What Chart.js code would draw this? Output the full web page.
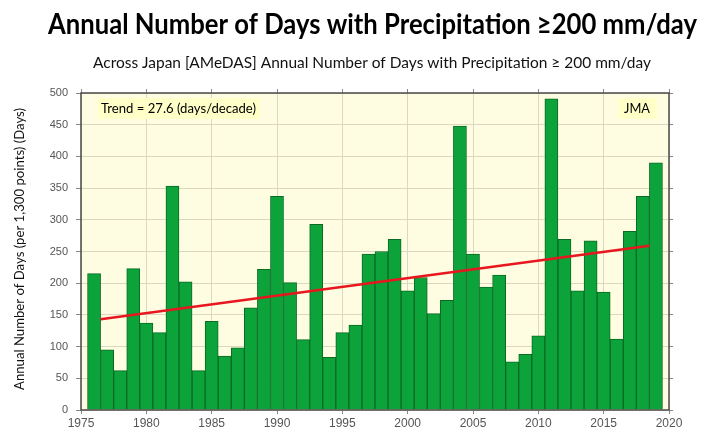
<!DOCTYPE html>
<html>
<head>
<meta charset="utf-8">
<script src="https://cdn.jsdelivr.net/npm/chart.js@4.4.0/dist/chart.umd.min.js"></script>
<style>
    html, body { margin: 0; padding: 0; background: #ffffff; }
    #wrap { width: 701px; height: 434px; position: relative; }
</style>
</head>
<body>
<div id="wrap"><canvas id="myChart" width="701" height="434"></canvas></div>
<script>
const years = [1976, 1977, 1978, 1979, 1980, 1981, 1982, 1983, 1984, 1985,
    1986, 1987, 1988, 1989, 1990, 1991, 1992, 1993, 1994, 1995,
    1996, 1997, 1998, 1999, 2000, 2001, 2002, 2003, 2004, 2005,
    2006, 2007, 2008, 2009, 2010, 2011, 2012, 2013, 2014, 2015,
    2016, 2017, 2018, 2019];
const days = [215, 95, 62, 223, 137, 122, 353, 202, 62, 140,
    85, 98, 161, 222, 337, 201, 111, 293, 83, 122,
    134, 246, 250, 269, 188, 209, 152, 173, 448, 246,
    194, 213, 76, 88, 117, 491, 269, 188, 267, 186,
    112, 282, 337, 390];
const trendYears = [1976.5, 2018.5];
const trendDays = [143, 259];
const yTicks = [0, 50, 100, 150, 200, 250, 300, 350, 400, 450, 500];
const xTicks = [1975, 1980, 1985, 1990, 1995, 2000, 2005, 2010, 2015, 2020];

const titleText = 'Annual Number of Days with Precipitation \u2265200 mm/day';
const subtitleText = 'Across Japan [AMeDAS] Annual Number of Days with Precipitation \u2265 200 mm/day';
const yTitleText = 'Annual Number of Days (per 1,300 points) (Days)';
const trendLabel = 'Trend = 27.6 (days/decade)';
const sourceLabel = 'JMA';

const calib = 'Lato, "Noto Sans", sans-serif';
const plain = '"Liberation Sans", Arial, sans-serif';

// текст, стиснутий по ширині
function fitText(ctx, text, cx, cy, width, font) {
    ctx.save();
    ctx.font = font;
    const w = ctx.measureText(text).width;
    ctx.translate(cx, cy);
    ctx.scale(width / w, 1);
    ctx.textAlign = 'center';
    ctx.textBaseline = 'middle';
    ctx.fillText(text, 0, 0);
    ctx.restore();
}

const plotDecor = {
    id: 'plotDecor',
    beforeDraw(chart) {
        const { ctx, chartArea: a } = chart;
        ctx.save();
        ctx.fillStyle = '#fffde1';
        ctx.fillRect(a.left, a.top, a.right - a.left, a.bottom - a.top);
        ctx.restore();
    },
    afterDraw(chart) {
        const { ctx, chartArea: a } = chart;
        ctx.save();
        ctx.strokeStyle = '#4a4a4a';
        ctx.lineWidth = 1.5;
        ctx.strokeRect(a.left, a.top, a.right - a.left, a.bottom - a.top);

        ctx.fillStyle = '#000';
        fitText(ctx, titleText, 372.5, 25, 649, 'bold 28px ' + calib);
        ctx.fillStyle = '#111';
        fitText(ctx, subtitleText, 372, 63, 558, '15px ' + calib);

        // вертикальний підпис осі
        ctx.save();
        ctx.translate(20, 249);
        ctx.rotate(-Math.PI / 2);
        fitText(ctx, yTitleText, 0, 0, 282, '13px ' + calib);
        ctx.restore();

        // підписи в полі графіка
        ctx.fillStyle = '#ffffc8';
        ctx.fillRect(98, 98, 162, 21);
        ctx.fillRect(618, 98, 39, 21);
        ctx.fillStyle = '#000';
        fitText(ctx, trendLabel, 178.5, 108.5, 155, '14px ' + calib);
        fitText(ctx, sourceLabel, 637, 108.5, 26, '14px ' + calib);
        ctx.restore();
    }
};

function buildChart() {
    const ctx = document.getElementById('myChart').getContext('2d');
    new Chart(ctx, {
        type: 'bar',
        data: {
            datasets: [{
                type: 'line',
                data: trendYears.map((x, i) => ({ x: x, y: trendDays[i] })),
                borderColor: '#e8161e',
                borderWidth: 2.5,
                pointRadius: 0,
                fill: false,
                order: 0
            }, {
                type: 'bar',
                data: years.map((x, i) => ({ x: x, y: days[i] })),
                backgroundColor: '#0ba33a',
                borderColor: '#0b6a24',
                borderWidth: 1,
                barPercentage: 1.0,
                categoryPercentage: 1.0,
                order: 1
            }]
        },
        options: {
            responsive: false,
            animation: false,
            layout: { padding: { top: 89, left: 0, right: 0, bottom: 0 } },
            plugins: {
                legend: { display: false },
                tooltip: { enabled: false }
            },
            scales: {
                x: {
                    type: 'linear',
                    position: 'bottom',
                    offset: false,
                    min: 1975,
                    max: 2020,
                    afterBuildTicks: s => { s.ticks = xTicks.map(v => ({ value: v })); },
                    afterFit: s => { s.height = 24; },
                    grid: { color: '#dcd8c0', tickLength: 4, tickColor: '#888', offset: false },
                    border: { display: false },
                    ticks: {
                        color: '#555',
                        font: { family: plain, size: 12 },
                        padding: 2,
                        maxRotation: 0,
                        callback: v => String(v)
                    }
                },
                x2: {
                    type: 'linear',
                    position: 'top',
                    offset: false,
                    min: 1975,
                    max: 2020,
                    afterBuildTicks: s => { s.ticks = xTicks.map(v => ({ value: v })); },
                    afterFit: s => { s.height = 4; },
                    grid: { drawOnChartArea: false, tickLength: 4, tickColor: '#888', offset: false },
                    border: { display: false },
                    ticks: { display: false }
                },
                y: {
                    min: 0,
                    max: 500,
                    afterBuildTicks: s => { s.ticks = yTicks.map(v => ({ value: v })); },
                    afterFit: s => { s.width = 81; },
                    grid: { color: '#dcd8c0', tickLength: 5, tickColor: '#888' },
                    border: { display: false },
                    ticks: {
                        color: '#555',
                        font: { family: plain, size: 11 },
                        padding: 8
                    }
                },
                y2: {
                    position: 'right',
                    min: 0,
                    max: 500,
                    afterBuildTicks: s => { s.ticks = yTicks.map(v => ({ value: v })); },
                    afterFit: s => { s.width = 32; },
                    grid: { drawOnChartArea: false, tickLength: 4, tickColor: '#888' },
                    border: { display: false },
                    ticks: { display: false }
                }
            }
        },
        plugins: [plotDecor]
    });
}

buildChart();
</script>
</body>
</html>
